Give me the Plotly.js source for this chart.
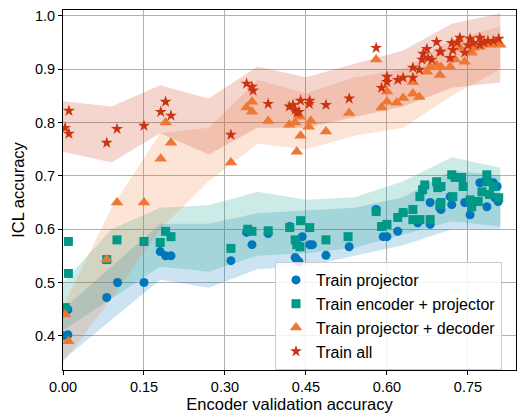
<!DOCTYPE html>
<html>
<head>
<meta charset="utf-8">
<script src="https://cdn.plot.ly/plotly-3.0.1.min.js"></script>
<style>html,body{margin:0;padding:0;background:#fff;}#chart{width:518px;height:419px;}</style>
</head>
<body>
<div id="chart"></div>
<script>
// ---- Data ----
const seriesNames = ["Train projector", "Train encoder + projector", "Train projector + decoder", "Train all"];

const projX = [0.0,0.009,0.009,0.081,0.101,0.15,0.18,0.19,0.2,0.311,0.34,0.35,0.38,0.42,0.43,0.437,0.433,0.443,0.457,0.462,0.487,0.53,0.58,0.593,0.6,0.62,0.63,0.657,0.68,0.68,0.698,0.70,0.717,0.72,0.744,0.754,0.772,0.781,0.785,0.797,0.8,0.806,0.804];
const projY = [0.40,0.449,0.402,0.472,0.5,0.5,0.558,0.55,0.55,0.541,0.594,0.571,0.592,0.605,0.547,0.539,0.543,0.586,0.571,0.571,0.551,0.567,0.637,0.586,0.586,0.596,0.631,0.612,0.609,0.65,0.64,0.637,0.661,0.646,0.65,0.627,0.687,0.689,0.642,0.687,0.659,0.652,0.68];

const encX = [0.004,0.01,0.01,0.081,0.10,0.15,0.18,0.19,0.2,0.311,0.342,0.35,0.38,0.42,0.44,0.457,0.43,0.433,0.439,0.487,0.528,0.58,0.59,0.6,0.62,0.63,0.648,0.648,0.661,0.68,0.661,0.666,0.67,0.692,0.694,0.698,0.70,0.7,0.72,0.726,0.738,0.741,0.722,0.754,0.757,0.769,0.776,0.785,0.785,0.79,0.797,0.807];
const encY = [0.453,0.577,0.517,0.543,0.58,0.577,0.575,0.596,0.586,0.564,0.6,0.596,0.597,0.603,0.616,0.603,0.58,0.571,0.567,0.58,0.586,0.633,0.605,0.609,0.622,0.631,0.637,0.618,0.618,0.618,0.661,0.674,0.683,0.689,0.678,0.646,0.68,0.65,0.702,0.697,0.697,0.68,0.661,0.655,0.642,0.652,0.67,0.702,0.689,0.665,0.68,0.659];

const decX = [0.004,0.01,0.081,0.10,0.15,0.181,0.19,0.2,0.311,0.34,0.35,0.35,0.38,0.419,0.43,0.433,0.44,0.439,0.459,0.455,0.487,0.53,0.58,0.59,0.6,0.6,0.618,0.63,0.648,0.66,0.648,0.674,0.68,0.692,0.698,0.70,0.717,0.726,0.744,0.757,0.76,0.772,0.79,0.806,0.735,0.81];
const decY = [0.44,0.39,0.543,0.65,0.65,0.732,0.80,0.762,0.725,0.828,0.839,0.82,0.803,0.796,0.8,0.745,0.775,0.811,0.803,0.792,0.783,0.818,0.918,0.828,0.858,0.839,0.837,0.846,0.854,0.848,0.876,0.895,0.904,0.908,0.889,0.904,0.904,0.918,0.914,0.931,0.94,0.942,0.946,0.948,0.94,0.946];

const allX = [0.004,0.011,0.011,0.081,0.10,0.15,0.181,0.19,0.2,0.311,0.34,0.35,0.352,0.38,0.419,0.426,0.43,0.437,0.433,0.44,0.457,0.456,0.487,0.53,0.58,0.59,0.6,0.6,0.62,0.63,0.648,0.648,0.66,0.665,0.667,0.674,0.676,0.683,0.692,0.698,0.70,0.72,0.717,0.722,0.735,0.744,0.754,0.76,0.772,0.772,0.787,0.797,0.807,0.78,0.75,0.73];
const allY = [0.79,0.822,0.779,0.762,0.788,0.794,0.82,0.839,0.813,0.777,0.873,0.867,0.86,0.835,0.83,0.833,0.824,0.82,0.818,0.841,0.841,0.835,0.833,0.845,0.94,0.865,0.886,0.876,0.88,0.884,0.884,0.903,0.899,0.918,0.929,0.938,0.921,0.918,0.951,0.933,0.933,0.949,0.921,0.936,0.959,0.931,0.957,0.949,0.959,0.946,0.953,0.953,0.957,0.95,0.945,0.95];

// Shaded bands (upper / lower edge at each bin position)
const bandX = [0, 0.09, 0.18, 0.27, 0.36, 0.45, 0.54, 0.63, 0.72, 0.81];
const projUpper = [0.45, 0.53, 0.61, 0.61, 0.63, 0.635, 0.64, 0.66, 0.71, 0.70];
const projLower = [0.355, 0.43, 0.505, 0.49, 0.525, 0.53, 0.55, 0.57, 0.60, 0.60];
const encUpper  = [0.50, 0.60, 0.64, 0.645, 0.67, 0.655, 0.66, 0.69, 0.735, 0.715];
const encLower  = [0.41, 0.47, 0.53, 0.52, 0.55, 0.555, 0.565, 0.59, 0.615, 0.605];
const decUpper  = [0.455, 0.64, 0.78, 0.79, 0.88, 0.855, 0.885, 0.90, 0.955, 0.98];
const decLower  = [0.35, 0.47, 0.60, 0.69, 0.76, 0.75, 0.775, 0.79, 0.85, 0.90];
const allUpper  = [0.84, 0.83, 0.87, 0.845, 0.905, 0.885, 0.91, 0.935, 0.985, 1.005];
const allLower  = [0.745, 0.725, 0.78, 0.74, 0.79, 0.79, 0.81, 0.83, 0.865, 0.875];

const colors = ["#0077BB", "#009988", "#EE7733", "#CC3311"];
const bandColors = ["rgba(0,119,187,0.2)", "rgba(0,153,136,0.2)", "rgba(238,119,51,0.2)", "rgba(204,51,17,0.2)"];
const symbols = ["circle", "square", "triangle-up", "star"];
const sizes = [9, 9, 11, 9];

function band(upper, lower, color) {
  return {
    x: bandX.concat(bandX.slice().reverse()),
    y: upper.concat(lower.slice().reverse()),
    type: "scatter", mode: "lines", fill: "toself",
    fillcolor: color, line: {width: 0}, hoverinfo: "skip", showlegend: false
  };
}
function pts(x, y, i) {
  return {
    x: x, y: y, type: "scatter", mode: "markers", name: seriesNames[i],
    marker: {symbol: symbols[i], size: sizes[i], color: colors[i], line: {width: 0}}
  };
}

const traces = [
  band(projUpper, projLower, bandColors[0]),
  band(encUpper, encLower, bandColors[1]),
  band(decUpper, decLower, bandColors[2]),
  band(allUpper, allLower, bandColors[3]),
  pts(projX, projY, 0),
  pts(encX, encY, 1),
  pts(decX, decY, 2),
  pts(allX, allY, 3)
];

const font = "Liberation Sans, Arial, sans-serif";
const layout = {
  width: 518, height: 419,
  margin: {l: 63, r: 2, t: 10, b: 49},
  paper_bgcolor: "#fff", plot_bgcolor: "#fff",
  font: {family: font, size: 14, color: "#000"},
  showlegend: true,
  xaxis: {
    range: [0, 0.839], dtick: 0.15, tick0: 0, tickformat: ".2f",
    showgrid: true, gridcolor: "#b0b0b0", gridwidth: 1, zeroline: false,
    showline: true, linecolor: "#000", linewidth: 1, mirror: true,
    ticks: "outside", ticklen: 4, tickcolor: "#000",
    tickfont: {size: 14.5},
    title: {text: "Encoder validation accuracy", font: {size: 16.5}, standoff: 3}
  },
  yaxis: {
    range: [0.336, 1.011], dtick: 0.1, tick0: 0, tickformat: ".1f",
    showgrid: true, gridcolor: "#b0b0b0", gridwidth: 1, zeroline: false,
    showline: true, linecolor: "#000", linewidth: 1, mirror: true,
    ticks: "outside", ticklen: 4, tickcolor: "#000",
    tickfont: {size: 14.5},
    title: {text: "ICL accuracy", font: {size: 16.5}, standoff: 6}
  },
  legend: {
    x: 0.468, y: 0.3, xanchor: "left", yanchor: "top",
    bgcolor: "rgba(255,255,255,0.85)", bordercolor: "#cccccc", borderwidth: 1,
    font: {size: 16}, itemwidth: 30
  }
};

Plotly.newPlot("chart", traces, layout, {displayModeBar: false, staticPlot: true});
</script>
</body>
</html>
